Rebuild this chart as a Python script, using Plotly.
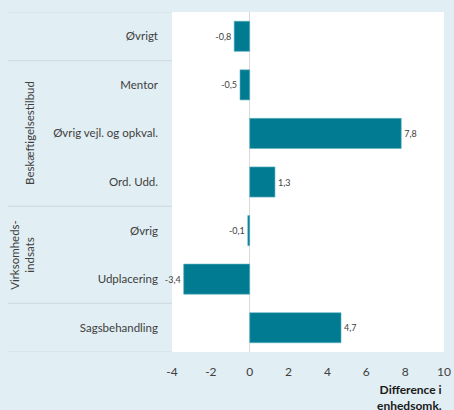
import plotly.graph_objects as go

categories = ["Øvrigt", "Mentor", "Øvrig vejl. og opkval.", "Ord. Udd.",
              "Øvrig", "Udplacering", "Sagsbehandling"]
values = [-0.8, -0.5, 7.8, 1.3, -0.1, -3.4, 4.7]
groups = ["", "Beskæftigelsestilbud", "Beskæftigelsestilbud", "Beskæftigelsestilbud",
          "Virksomheds-<br>indsats", "Virksomheds-<br>indsats", ""]
x_ticks = [-4, -2, 0, 2, 4, 6, 8, 10]
x_title = "Difference i<br>enhedsomk."

BG = "#e1eef3"
BAR = "#007b91"
TXT = "#404040"
LINE = "#d3dde1"
FONT = "Lato"

pos = list(range(len(categories)))
labels = [f"{v:.1f}".replace(".", ",") for v in values]

fig = go.Figure(go.Bar(
    x=values, y=pos, orientation="h",
    marker=dict(color=BAR, line=dict(color="#5fb3c2", width=0.6)),
    text=labels, textposition="outside", cliponaxis=False,
    textfont=dict(size=9, color=TXT, family=FONT),
    width=0.62,
))

# group boundaries (separator lines) and group labels
shapes = []
bounds = [-0.5]
for i in range(1, len(groups)):
    if groups[i] != groups[i - 1] or groups[i] == "":
        bounds.append(i - 0.5)
bounds.append(len(groups) - 0.5)
for b in bounds:
    shapes.append(dict(type="line", xref="paper", yref="y", x0=-0.603, x1=0,
                       y0=b, y1=b, line=dict(color=LINE, width=1.2), layer="below"))

annotations = []
seen = []
for g in groups:
    if g and g not in seen:
        seen.append(g)
        idx = [i for i, gg in enumerate(groups) if gg == g]
        center = sum(idx) / len(idx)
        annotations.append(dict(
            text=g, xref="paper", yref="y", x=-0.4926, y=center,
            textangle=-90, showarrow=False, xanchor="right", yanchor="middle",
            font=dict(size=11.5, color=TXT, family=FONT), align="center"))

annotations.append(dict(
    text=f"<b>{x_title}</b>", xref="paper", yref="paper", x=1.0, y=-0.083,
    xanchor="right", yanchor="top", showarrow=False, align="right",
    font=dict(size=12, color="#1a1a1a", family=FONT)))

fig.update_layout(
    width=454, height=410,
    margin=dict(l=172, r=10, t=12, b=58, autoexpand=False),
    paper_bgcolor=BG, plot_bgcolor="white",
    showlegend=False,
    shapes=shapes, annotations=annotations,
    font=dict(family=FONT, color=TXT),
    xaxis=dict(range=[-4, 10], tickvals=x_ticks, ticktext=[str(t) for t in x_ticks],
               showgrid=False, zeroline=True, zerolinecolor="#d9d9d9", zerolinewidth=1,
               showline=False, ticks="", tickfont=dict(size=12, color=TXT, family=FONT),
               ticklabelstandoff=11, automargin=False, fixedrange=True),
    yaxis=dict(range=[len(categories) - 0.5, -0.5], tickvals=pos, ticktext=categories,
               showgrid=False, zeroline=False, showline=False, ticks="",
               ticklabelstandoff=13, automargin=False,
               tickfont=dict(size=11.5, color=TXT, family=FONT), fixedrange=True),
)

fig.write_html("out.html", config={"displayModeBar": False},
               post_script="document.body.style.margin='0';"
                           "document.body.style.background='" + BG + "';")
